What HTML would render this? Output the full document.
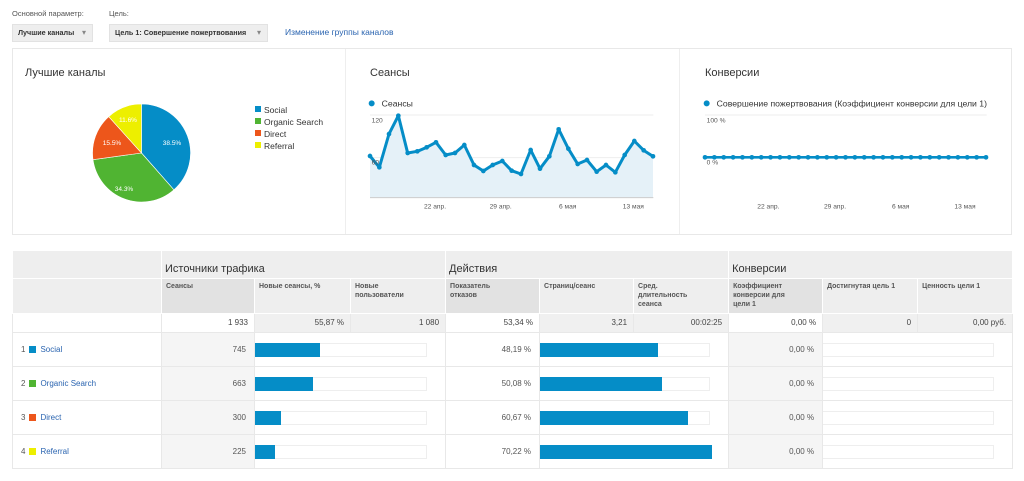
<!DOCTYPE html>
<html><head><meta charset="utf-8"><style>
*{margin:0;padding:0;box-sizing:border-box}
body{width:1024px;height:481px;background:#fff;font-family:"Liberation Sans","DejaVu Sans",sans-serif;color:#333;position:relative;overflow:hidden}
.a{position:absolute}
.sm{font-size:7.5px;color:#555}
.dd{background:#eee;border:1px solid #e2e2e2;font-size:7.2px;font-weight:bold;color:#333;height:18px;line-height:16px;padding-left:5px;white-space:nowrap}
.dd:after{content:"▾";position:absolute;right:6px;color:#888;font-size:8px}
table{position:absolute;left:12px;top:250px;border-collapse:collapse;table-layout:fixed;width:1000px;font-size:8px}
td{border:1px solid #e8e8e8;vertical-align:top;overflow:hidden}
.g{background:#f0f0f0}
.gl{background:#f5f5f5}
.hd td{background:#eee;border-color:#fff}
.grp{font-size:11px;color:#333;padding:12px 0 0 3px}
.sh{font-size:7px;font-weight:bold;color:#555;padding:3px 4px;line-height:9px}
.hd td.sd{background:#e2e2e2}
.tot td{height:19px;text-align:right;padding:4px 6px 0 0;color:#444;font-size:8px}
.r td{height:34px;color:#555;font-size:8px;vertical-align:middle}
.num{text-align:right;padding-right:8px}
.lab{padding-left:8px;color:#333}
.lab span{color:#2a64b0;margin-left:4px}
.sq{display:inline-block;width:7px;height:7px;margin-left:4px;vertical-align:-1px}
.trk{position:relative;height:14px;border:1px solid #eee;border-left:none;margin:0 18px 0 0}
.bar{position:absolute;left:0;top:-1px;height:14px;background:#058dc7}
</style></head><body>
<div class="a sm" style="left:12px;top:9px">Основной параметр:</div>
<div class="a sm" style="left:109px;top:9px">Цель:</div>
<div class="a dd" style="left:12px;top:24px;width:81px">Лучшие каналы</div>
<div class="a dd" style="left:109px;top:24px;width:159px">Цель 1: Совершение пожертвования</div>
<div class="a" style="left:285px;top:27px;font-size:8.5px;color:#2a64b0">Изменение группы каналов</div>

<div class="a" style="left:12px;top:48px;width:1000px;height:187px;border:1px solid #e8e8e8"></div>
<div class="a" style="left:345px;top:49px;width:1px;height:185px;background:#eee"></div>
<div class="a" style="left:679px;top:49px;width:1px;height:185px;background:#eee"></div>
<div class="a" style="left:25px;top:67px;font-size:11px">Лучшие каналы</div>
<div class="a" style="left:370px;top:67px;font-size:11px">Сеансы</div>
<div class="a" style="left:705px;top:67px;font-size:11px">Конверсии</div>

<svg class="a" style="left:0;top:0" width="345" height="235">
<path d="M141.5 153 L141.5 104 A49 49 0 0 1 173.9 189.8Z" fill="#058dc7" stroke="#fff" stroke-width=".6"/>
<path d="M141.5 153 L173.9 189.8 A49 49 0 0 1 93 159.7Z" fill="#50b432" stroke="#fff" stroke-width=".6"/>
<path d="M141.5 153 L93 159.7 A49 49 0 0 1 108.7 116.6Z" fill="#ed561b" stroke="#fff" stroke-width=".6"/>
<path d="M141.5 153 L108.7 116.6 A49 49 0 0 1 141.5 104Z" fill="#edef00" stroke="#fff" stroke-width=".6"/>
<g font-size="6.5" fill="#fff" text-anchor="middle" font-family="Liberation Sans">
<text x="172" y="145">38.5%</text><text x="124" y="191">34.3%</text><text x="112" y="145">15.5%</text><text x="128" y="122">11.6%</text></g>
<g font-size="8.5" fill="#333" font-family="Liberation Sans">
<rect x="255" y="106" width="6" height="6" fill="#058dc7"/><text x="264" y="113">Social</text>
<rect x="255" y="118" width="6" height="6" fill="#50b432"/><text x="264" y="125">Organic Search</text>
<rect x="255" y="130" width="6" height="6" fill="#ed561b"/><text x="264" y="137">Direct</text>
<rect x="255" y="142" width="6" height="6" fill="#edef00"/><text x="264" y="149">Referral</text></g>
</svg>

<svg class="a" style="left:340px;top:50px" width="340" height="180" viewBox="0 0 1020 540">
<circle cx="95" cy="160" r="9" fill="#058dc7"/>
<text x="125" y="170" font-size="26" fill="#333" font-family="Liberation Sans">Сеансы</text>
<line x1="90" y1="195" x2="940" y2="195" stroke="#eee" stroke-width="3"/>
<line x1="90" y1="323" x2="940" y2="323" stroke="#eee" stroke-width="3"/>
<polygon fill="#e5f1f8" points="90,443 90,318 118,352 147,252 175,197 203,309 232,304 260,292 288,277 317,315 345,309 373,285 402,345 430,363 458,345 487,333 515,362 543,372 572,300 600,356 628,319 656,238 685,296 713,342 741,330 770,365 798,345 826,367 854,315 883,273 911,301 939,319 939,443"/>
<line x1="90" y1="443" x2="940" y2="443" stroke="#ccc" stroke-width="3"/>
<polyline fill="none" stroke="#058dc7" stroke-width="9" stroke-linejoin="round" points="90,318 118,352 147,252 175,197 203,309 232,304 260,292 288,277 317,315 345,309 373,285 402,345 430,363 458,345 487,333 515,362 543,372 572,300 600,356 628,319 656,238 685,296 713,342 741,330 770,365 798,345 826,367 854,315 883,273 911,301 939,319"/>
<g fill="#058dc7">
<circle cx="90" cy="318" r="7"/><circle cx="118" cy="352" r="7"/><circle cx="147" cy="252" r="7"/><circle cx="175" cy="197" r="7"/><circle cx="203" cy="309" r="7"/><circle cx="232" cy="304" r="7"/><circle cx="260" cy="292" r="7"/><circle cx="288" cy="277" r="7"/><circle cx="317" cy="315" r="7"/><circle cx="345" cy="309" r="7"/><circle cx="373" cy="285" r="7"/><circle cx="402" cy="345" r="7"/><circle cx="430" cy="363" r="7"/><circle cx="458" cy="345" r="7"/><circle cx="487" cy="333" r="7"/><circle cx="515" cy="362" r="7"/><circle cx="543" cy="372" r="7"/><circle cx="572" cy="300" r="7"/><circle cx="600" cy="356" r="7"/><circle cx="628" cy="319" r="7"/><circle cx="656" cy="238" r="7"/><circle cx="685" cy="296" r="7"/><circle cx="713" cy="342" r="7"/><circle cx="741" cy="330" r="7"/><circle cx="770" cy="365" r="7"/><circle cx="798" cy="345" r="7"/><circle cx="826" cy="367" r="7"/><circle cx="854" cy="315" r="7"/><circle cx="883" cy="273" r="7"/><circle cx="911" cy="301" r="7"/><circle cx="939" cy="319" r="7"/></g>
<g font-size="20" fill="#555" font-family="Liberation Sans">
<text x="95" y="218">120</text><text x="95" y="343">60</text>
<g text-anchor="middle"><text x="285" y="475">22 апр.</text><text x="482" y="475">29 апр.</text><text x="683" y="475">6 мая</text><text x="880" y="475">13 мая</text></g></g>
</svg>

<svg class="a" style="left:680px;top:50px" width="340" height="180" viewBox="0 0 1020 540">
<circle cx="80" cy="160" r="9" fill="#058dc7"/>
<text x="110" y="170" font-size="26" fill="#333" font-family="Liberation Sans">Совершение пожертвования (Коэффициент конверсии для цели 1)</text>
<line x1="75" y1="195" x2="920" y2="195" stroke="#eee" stroke-width="3"/>
<line x1="75" y1="322" x2="918" y2="322" stroke="#058dc7" stroke-width="8"/>
<g fill="#058dc7" id="dots"></g>
<g font-size="20" fill="#555" font-family="Liberation Sans">
<text x="80" y="218">100 %</text><text x="80" y="343">0 %</text>
<g text-anchor="middle"><text x="265" y="475">22 апр.</text><text x="465" y="475">29 апр.</text><text x="662" y="475">6 мая</text><text x="855" y="475">13 мая</text></g></g>
</svg>
<script>
var g=document.getElementById('dots'),s='';for(var i=0;i<31;i++){s+='<circle cx="'+(75+i*28.1)+'" cy="322" r="7"/>';}g.innerHTML=s;
</script>

<table>
<colgroup><col style="width:149px"><col style="width:93px"><col style="width:96px"><col style="width:95px"><col style="width:94px"><col style="width:94px"><col style="width:95px"><col style="width:94px"><col style="width:95px"><col style="width:95px"></colgroup>
<tr class="hd" style="height:28px"><td></td><td colspan="3" class="grp">Источники трафика</td><td colspan="3" class="grp">Действия</td><td colspan="3" class="grp">Конверсии</td></tr>
<tr class="hd" style="height:35px"><td></td><td class="sh sd">Сеансы</td><td class="sh">Новые сеансы, %</td><td class="sh">Новые<br>пользователи</td><td class="sh sd">Показатель<br>отказов</td><td class="sh">Страниц/сеанс</td><td class="sh">Сред.<br>длительность<br>сеанса</td><td class="sh sd">Коэффициент<br>конверсии для<br>цели 1</td><td class="sh">Достигнутая цель 1</td><td class="sh">Ценность цели 1</td></tr>
<tr class="tot"><td></td><td>1 933</td><td class="g">55,87 %</td><td class="g">1 080</td><td>53,34 %</td><td class="g">3,21</td><td class="g">00:02:25</td><td>0,00 %</td><td class="g">0</td><td class="g">0,00 руб.</td></tr>
<tr class="r"><td class="lab">1<i class="sq" style="background:#058dc7"></i><span>Social</span></td><td class="num gl">745</td><td colspan="2"><div class="trk"><div class="bar" style="width:65px"></div></div></td><td class="num">48,19 %</td><td colspan="2"><div class="trk"><div class="bar" style="width:118px"></div></div></td><td class="num gl">0,00 %</td><td colspan="2"><div class="trk"></div></td></tr>
<tr class="r"><td class="lab">2<i class="sq" style="background:#50b432"></i><span>Organic Search</span></td><td class="num gl">663</td><td colspan="2"><div class="trk"><div class="bar" style="width:58px"></div></div></td><td class="num">50,08 %</td><td colspan="2"><div class="trk"><div class="bar" style="width:122px"></div></div></td><td class="num gl">0,00 %</td><td colspan="2"><div class="trk"></div></td></tr>
<tr class="r"><td class="lab">3<i class="sq" style="background:#ed561b"></i><span>Direct</span></td><td class="num gl">300</td><td colspan="2"><div class="trk"><div class="bar" style="width:26px"></div></div></td><td class="num">60,67 %</td><td colspan="2"><div class="trk"><div class="bar" style="width:148px"></div></div></td><td class="num gl">0,00 %</td><td colspan="2"><div class="trk"></div></td></tr>
<tr class="r"><td class="lab">4<i class="sq" style="background:#edef00"></i><span>Referral</span></td><td class="num gl">225</td><td colspan="2"><div class="trk"><div class="bar" style="width:20px"></div></div></td><td class="num">70,22 %</td><td colspan="2"><div class="trk"><div class="bar" style="width:172px"></div></div></td><td class="num gl">0,00 %</td><td colspan="2"><div class="trk"></div></td></tr>
</table>
</body></html>
